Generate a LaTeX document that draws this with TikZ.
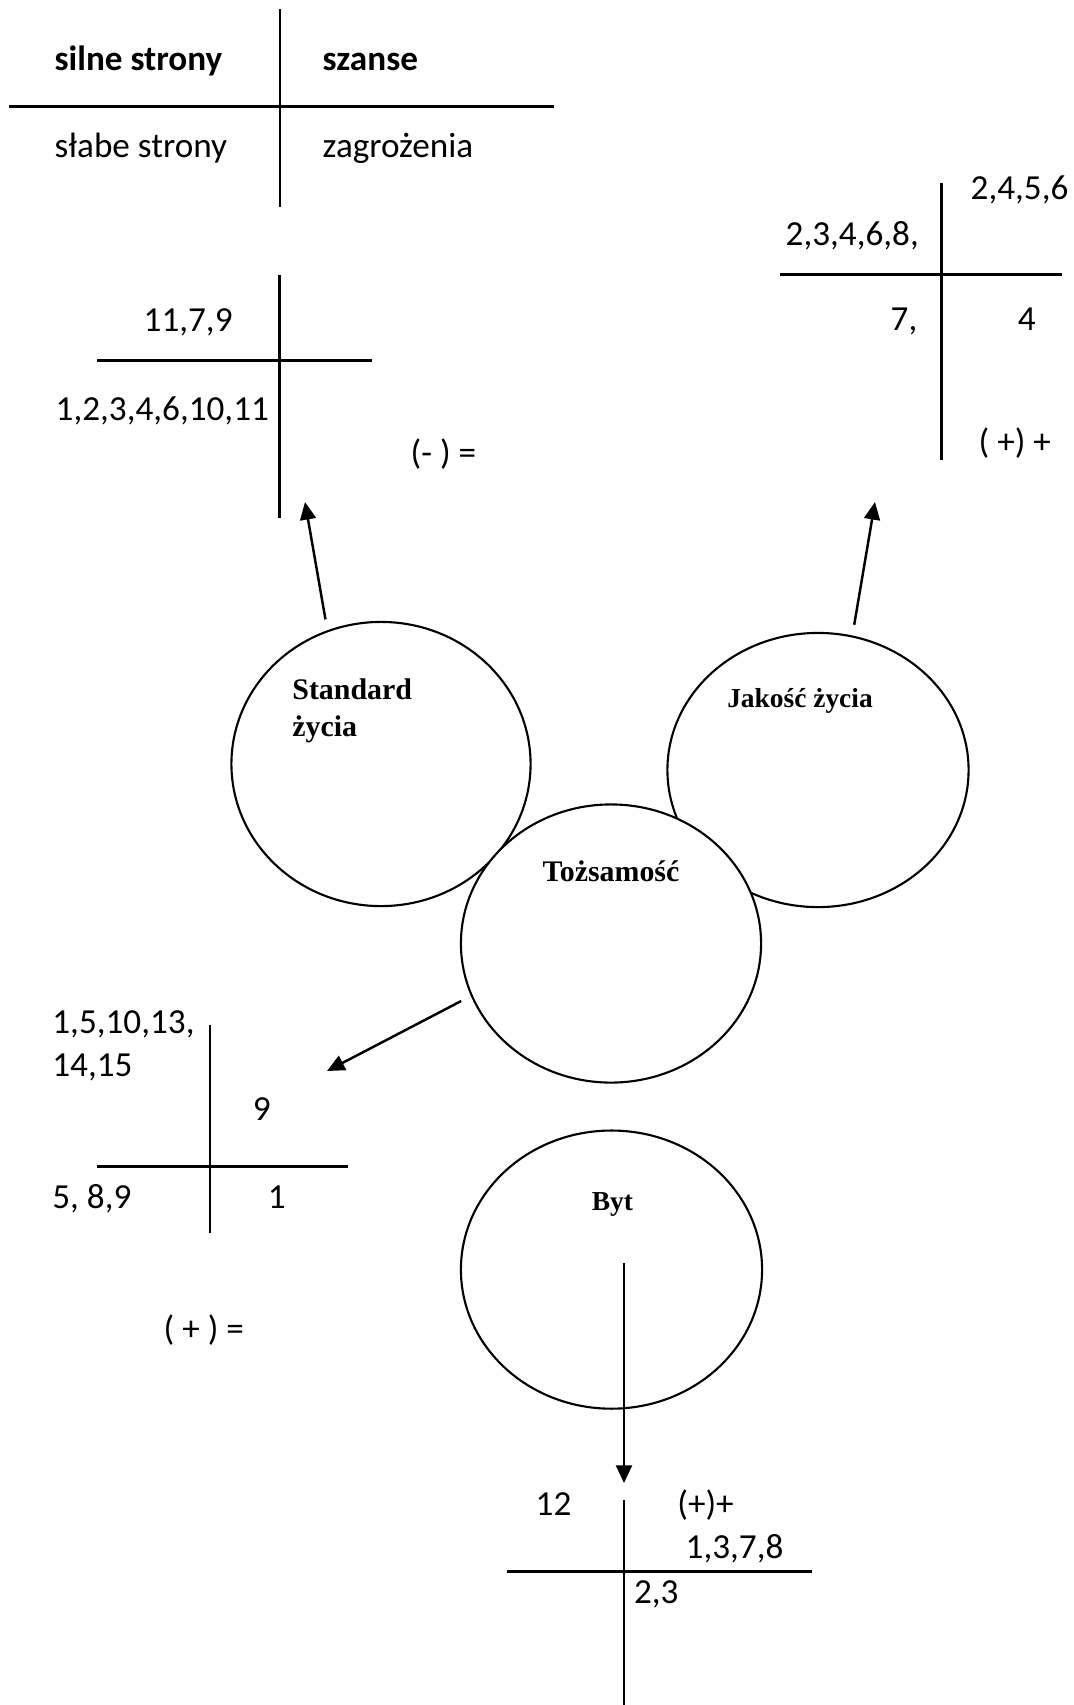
\documentclass[tikz,border=0pt]{standalone}
\usepackage{fontspec}
\setmainfont{Carlito}
\newfontfamily\timesfont{Liberation Serif}
\usetikzlibrary{arrows.meta,shapes.geometric}

\tikzset{
  swot/.style={black,line width=0.85pt},
  arr/.style={black,line width=0.7pt,-{Triangle[length=5pt,width=4.5pt]}},
  sphere/.style={ellipse,draw,fill=white,line width=0.6pt,inner sep=0pt,outer sep=3.4pt},
  txt/.style={inner sep=0pt,anchor=base west,font=\fontsize{10}{12}\selectfont},
  sph/.style={inner sep=0pt,align=left,font=\timesfont\bfseries\fontsize{8.5}{10.4}\selectfont},
}

\begin{document}
\begin{tikzpicture}[x=0.01cm,y=-0.01cm]
  \useasboundingbox (0,0) rectangle (1074,1705);

% legend cross at top
  \draw[swot] (280,9) -- (280,207);
  \draw[swot] (9,106.5) -- (554,106.5);
  \node[txt,font=\fontsize{10}{12}\selectfont\bfseries] (lgS) at (54,70.5) {silne strony};
  \node[txt,font=\fontsize{10}{12}\selectfont\bfseries] (lgO) at (322,70.5) {szanse};
  \node[txt] (lgW) at (54,157.5) {słabe strony};
  \node[txt] (lgT) at (322,157.5) {zagrożenia};

% spheres
  \node[sphere,minimum width=2.99cm,minimum height=2.84cm] (std) at (381,764) {};
  \node[sphere,minimum width=3.01cm,minimum height=2.74cm] (jak) at (818,770) {};
  \node[sphere,minimum width=3.00cm,minimum height=2.78cm] (toz) at (611,943.5) {};
  \node[sphere,minimum width=3.01cm,minimum height=2.78cm] (byt) at (611.5,1269.6) {};
  \node[sph,anchor=base west] (stdL) at (291.7,736) {Standard\\życia};
  \node[sph,anchor=base,font=\timesfont\bfseries\fontsize{7.8}{9}\selectfont] (jakL) at (800,707.3) {Jakość życia};
  \node[sph,anchor=base] (tozL) at (611,881.7) {Tożsamość};
  \node[sph,anchor=base,font=\timesfont\bfseries\fontsize{7.8}{9}\selectfont] (bytL) at (612.5,1210.5) {Byt};

% arrows to the crosses
  \coordinate (stdTip) at (305,502);
  \coordinate (jakTip) at (875,502);
  \coordinate (tozTip) at (327,1071);
  \coordinate (bytSrc) at (624,1263);
  \coordinate (bytTip) at (624,1483);
  \draw[arr] (std.111) -- (stdTip);
  \draw[arr] (jak.76) -- (jakTip);
  \draw[arr] (toz.201) -- (tozTip);
  \draw[arr] (bytSrc) -- (bytTip);

% Standard zycia
  \draw[swot] (279.5,275) -- (279.5,518);
  \draw[swot] (97,360) -- (372,360);
  \node[txt] (stdS) at (143,331.7) {11,7,9};
  \node[txt] (stdW) at (55,420) {1,2,3,4,6,10,11};
  \node[txt] (stdR) at (410,464) {(- ) =};

% Jakosc zycia
  \draw[swot] (941,183) -- (941,460);
  \draw[swot] (780,274) -- (1062,274);
  \node[txt] (jakO) at (970,199) {2,4,5,6};
  \node[txt] (jakS) at (785,245) {2,3,4,6,8,};
  \node[txt] (jakW) at (890,330) {7,};
  \node[txt,anchor=base] (jakT) at (1026.7,330.7) {4};
  \node[txt] (jakR) at (978,453) {( +) +};

% Tozsamosc
  \draw[swot] (210,1025) -- (210,1233);
  \draw[swot] (97,1166) -- (348,1166);
  \node[txt] (tozS1) at (51.7,1033.3) {1,5,10,13,};
  \node[txt] (tozS2) at (51.7,1076.7) {14,15};
  \node[txt,anchor=base] (tozO) at (261.7,1120) {9};
  \node[txt] (tozW) at (51.7,1208.3) {5, 8,9};
  \node[txt,anchor=base] (tozT) at (276.7,1208.3) {1};
  \node[txt] (tozR) at (163,1340) {( + ) =};

% Byt
  \draw[swot] (624,1500) -- (624,1705);
  \draw[swot] (507,1571) -- (812,1571);
  \node[txt] (bytS) at (535,1515) {12};
  \node[txt] (bytR) at (676.7,1515) {(+)+};
  \node[txt] (bytO) at (685,1558.3) {1,3,7,8};
  \node[txt] (bytT) at (633.3,1603.3) {2,3};
\end{tikzpicture}
\end{document}
